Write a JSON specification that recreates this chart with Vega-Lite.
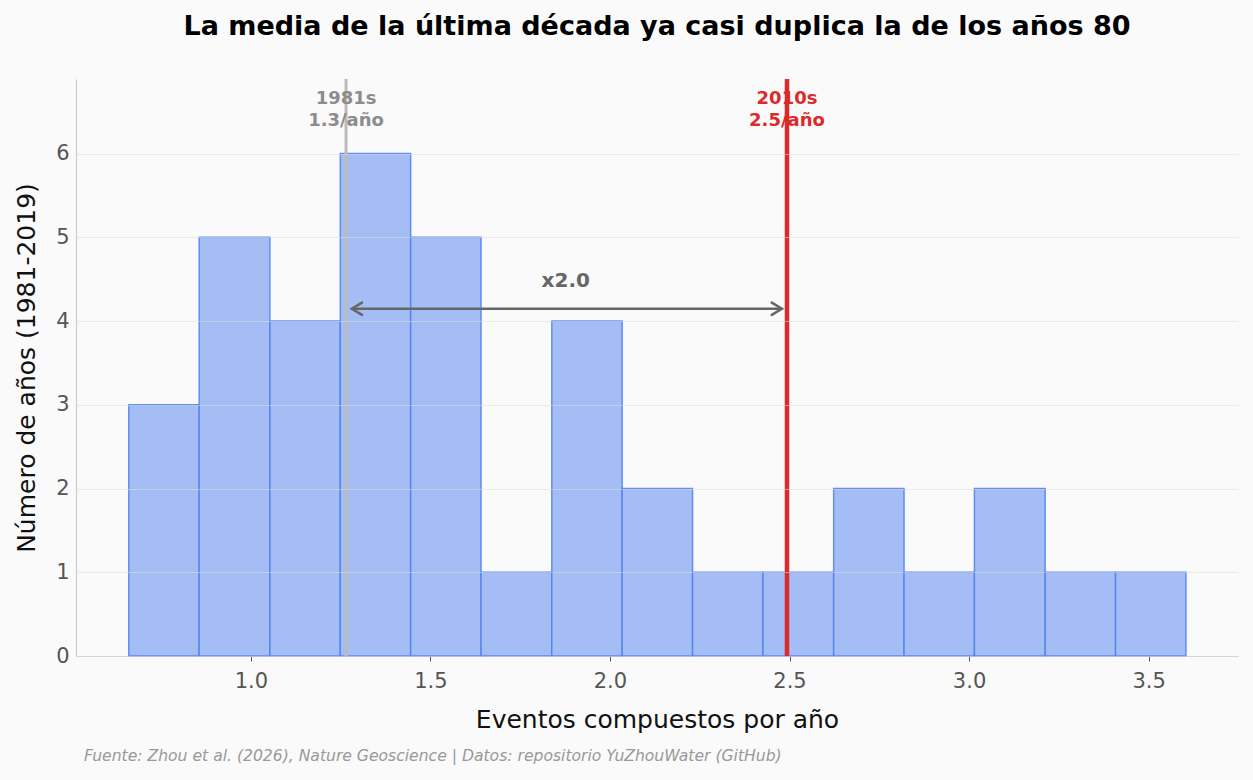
{
  "$schema": "https://vega.github.io/schema/vega-lite/v6.json",
  "width": 1162,
  "height": 577,
  "autosize": {"type": "none"},
  "padding": {"left": 76, "top": 79, "right": 15, "bottom": 124},
  "background": "#fafafa",
  "config": {
    "font": "DejaVu Sans",
    "view": {"stroke": null},
    "title": {"font": "DejaVu Sans", "fontSize": 27, "fontWeight": "bold", "color": "#000000", "anchor": "middle", "offset": 36}
  },
  "title": "La media de la última década ya casi duplica la de los años 80",
  "resolve": {"scale": {"color": "independent"}},
  "datasets": {
    "bins": [
      {"bin_start": 0.660, "bin_end": 0.856, "count": 3},
      {"bin_start": 0.856, "bin_end": 1.053, "count": 5},
      {"bin_start": 1.053, "bin_end": 1.249, "count": 4},
      {"bin_start": 1.249, "bin_end": 1.445, "count": 6},
      {"bin_start": 1.445, "bin_end": 1.641, "count": 5},
      {"bin_start": 1.641, "bin_end": 1.838, "count": 1},
      {"bin_start": 1.838, "bin_end": 2.034, "count": 4},
      {"bin_start": 2.034, "bin_end": 2.230, "count": 2},
      {"bin_start": 2.230, "bin_end": 2.426, "count": 1},
      {"bin_start": 2.426, "bin_end": 2.623, "count": 1},
      {"bin_start": 2.623, "bin_end": 2.819, "count": 2},
      {"bin_start": 2.819, "bin_end": 3.015, "count": 1},
      {"bin_start": 3.015, "bin_end": 3.212, "count": 2},
      {"bin_start": 3.212, "bin_end": 3.408, "count": 1},
      {"bin_start": 3.408, "bin_end": 3.604, "count": 1}
    ],
    "means": [
      {"decade": "1981s", "mean": 1.265, "label": "1981s\n1.3/año", "label_y": 6.65},
      {"decade": "2010s", "mean": 2.493, "label": "2010s\n2.5/año", "label_y": 6.65}
    ],
    "ratio": [
      {"from": 1.281, "to": 2.479, "y": 4.146, "label": "x2.0", "label_x": 1.877, "label_y": 4.48}
    ],
    "source": [
      {"text": "Fuente: Zhou et al. (2026), Nature Geoscience | Datos: repositorio YuZhouWater (GitHub)", "x": 0.535, "y": -1.195}
    ]
  },
  "layer": [
    {
      "data": {"name": "bins"},
      "mark": {"type": "rect", "fill": "#a5bdf5", "stroke": "#4f80f0", "strokeWidth": 1.5, "strokeOpacity": 0.85},
      "encoding": {
        "x": {
          "field": "bin_start", "type": "quantitative",
          "scale": {"domain": [0.513, 3.749], "nice": false, "zero": false},
          "axis": {
            "title": "Eventos compuestos por año",
            "values": [1.0, 1.5, 2.0, 2.5, 3.0, 3.5],
            "format": ".1f",
            "grid": false,
            "domainColor": "#cccccc",
            "domainWidth": 1.2,
            "tickColor": "#555555",
            "tickSize": 5,
            "labelFontSize": 21,
            "labelColor": "#555555",
            "labelPadding": 9,
            "titleFontSize": 25,
            "titleFontWeight": "normal",
            "titleColor": "#111111",
            "titlePadding": 16
          }
        },
        "x2": {"field": "bin_end"},
        "y": {
          "field": "count", "type": "quantitative",
          "scale": {"domain": [0, 6.89], "nice": false},
          "axis": {
            "title": "Número de años (1981-2019)",
            "values": [0, 1, 2, 3, 4, 5, 6],
            "format": "d",
            "grid": true,
            "gridColor": "#dddddd",
            "gridOpacity": 0.55,
            "gridWidth": 1,
            "zindex": 1,
            "domainColor": "#cccccc",
            "domainWidth": 1.2,
            "ticks": false,
            "labelFontSize": 21,
            "labelColor": "#555555",
            "labelPadding": 7,
            "titleFontSize": 25,
            "titleFontWeight": "normal",
            "titleColor": "#111111",
            "titlePadding": 16
          }
        },
        "y2": {"datum": 0}
      }
    },
    {
      "data": {"name": "means"},
      "mark": {"type": "rule"},
      "encoding": {
        "x": {"field": "mean", "type": "quantitative"},
        "color": {"field": "decade", "type": "nominal", "scale": {"domain": ["1981s", "2010s"], "range": ["#bbbbbb", "#dc2a2a"]}, "legend": null},
        "strokeWidth": {"field": "decade", "type": "nominal", "scale": {"domain": ["1981s", "2010s"], "range": [3, 4.5]}, "legend": null}
      }
    },
    {
      "data": {"name": "means"},
      "mark": {"type": "text", "fontSize": 18, "fontWeight": "bold", "lineBreak": "\n", "lineHeight": 22, "align": "center", "baseline": "middle"},
      "encoding": {
        "x": {"field": "mean", "type": "quantitative"},
        "y": {"field": "label_y", "type": "quantitative"},
        "text": {"field": "label"},
        "color": {"field": "decade", "type": "nominal", "scale": {"domain": ["1981s", "2010s"], "range": ["#8c8c8c", "#dc2a2a"]}, "legend": null}
      }
    },
    {
      "data": {"name": "ratio"},
      "mark": {"type": "rule", "color": "#666666", "strokeWidth": 2.5},
      "encoding": {
        "x": {"field": "from", "type": "quantitative"},
        "x2": {"field": "to"},
        "y": {"field": "y", "type": "quantitative"}
      }
    },
    {
      "data": {"name": "ratio"},
      "mark": {"type": "point", "shape": "M 1 -0.6 L 0 0 L 1 0.6", "size": 420, "filled": false, "stroke": "#666666", "strokeWidth": 2.5, "opacity": 1, "strokeCap": "round", "strokeJoin": "miter"},
      "encoding": {
        "x": {"field": "from", "type": "quantitative"},
        "y": {"field": "y", "type": "quantitative"}
      }
    },
    {
      "data": {"name": "ratio"},
      "mark": {"type": "point", "shape": "M -1 -0.6 L 0 0 L -1 0.6", "size": 420, "filled": false, "stroke": "#666666", "strokeWidth": 2.5, "opacity": 1, "strokeCap": "round", "strokeJoin": "miter"},
      "encoding": {
        "x": {"field": "to", "type": "quantitative"},
        "y": {"field": "y", "type": "quantitative"}
      }
    },
    {
      "data": {"name": "ratio"},
      "mark": {"type": "text", "fontSize": 20, "fontWeight": "bold", "color": "#666666", "align": "center", "baseline": "middle"},
      "encoding": {
        "x": {"field": "label_x", "type": "quantitative"},
        "y": {"field": "label_y", "type": "quantitative"},
        "text": {"field": "label"}
      }
    },
    {
      "data": {"name": "source"},
      "mark": {"type": "text", "fontSize": 15.6, "fontStyle": "italic", "color": "#999999", "align": "left", "baseline": "middle", "clip": false},
      "encoding": {
        "x": {"field": "x", "type": "quantitative"},
        "y": {"field": "y", "type": "quantitative"},
        "text": {"field": "text"}
      }
    }
  ]
}
